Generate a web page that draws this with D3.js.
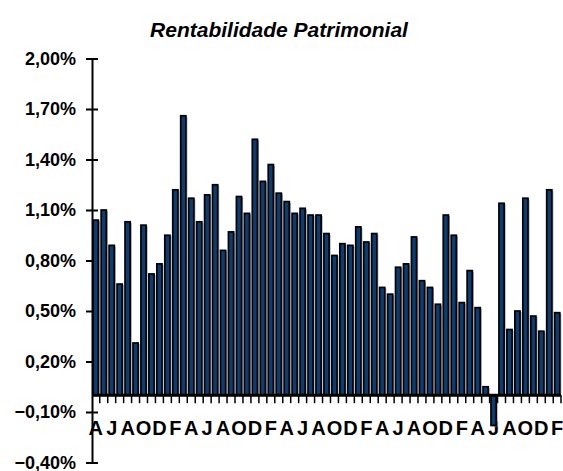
<!DOCTYPE html>
<html>
<head>
<meta charset="utf-8">
<script src="https://cdn.jsdelivr.net/npm/d3@7"></script>
<style>
  body { margin: 0; background: #fff; }
  text { font-family: "Liberation Sans", Arial, sans-serif; font-weight: bold; fill: #000; }
</style>
</head>
<body>
<div id="viz_container"></div>
<script>
//Data/////////////////////////////////////////////////////
const months = ["A","M","J","J","A","S","O","N","D","J","F","M",
                "A","M","J","J","A","S","O","N","D","J","F","M",
                "A","M","J","J","A","S","O","N","D","J","F","M",
                "A","M","J","J","A","S","O","N","D","J","F","M",
                "A","M","J","J","A","S","O","N","D","J","F"];
const rentabilidade = [1.04, 1.10, 0.89, 0.66, 1.03, 0.31, 1.01, 0.72, 0.78, 0.95,
                       1.22, 1.66, 1.17, 1.03, 1.19, 1.25, 0.86, 0.97, 1.18, 1.08,
                       1.52, 1.27, 1.37, 1.20, 1.15, 1.08, 1.11, 1.07, 1.07, 0.96,
                       0.83, 0.90, 0.89, 1.00, 0.91, 0.96, 0.64, 0.60, 0.76, 0.78,
                       0.94, 0.68, 0.64, 0.54, 1.07, 0.95, 0.55, 0.74, 0.52, 0.05,
                       -0.18, 1.14, 0.39, 0.50, 1.17, 0.47, 0.38, 1.22, 0.49];
const yTicks = [-0.40, -0.10, 0.20, 0.50, 0.80, 1.10, 1.40, 1.70, 2.00];
const title = "Rentabilidade Patrimonial";

const W = 563, H = 471;
const svg = d3.select("#viz_container")
  .append("svg")
    .attr("width", W)
    .attr("height", H);

// scales
const xScale = d3.scaleBand()
    .domain(d3.range(months.length))
    .range([92, 561])
    .paddingInner(0.35)
    .paddingOuter(0.15);

const yScale = d3.scaleLinear()
    .domain([-0.40, 2.00])
    .range([462.5, 58.5]);

const y0 = yScale(0);
const fmt = v => d3.format(".2f")(v).replace(".", ",") + "%";

// title
svg.append("text")
    .attr("x", 279)
    .attr("y", 37)
    .attr("text-anchor", "middle")
    .style("font-size", "21px")
    .style("font-style", "italic")
    .text(title);

// y axis
const yAxis = svg.append("g")
    .attr("transform", "translate(92,0)")
    .call(d3.axisLeft(yScale).tickValues(yTicks).tickFormat(fmt).tickSize(0).tickPadding(16));
yAxis.select(".domain").attr("stroke", "#000").attr("stroke-width", 2);
yAxis.selectAll("text").style("font-size", "18px").style("font-family", null);
yAxis.selectAll(".tick").append("line")
    .attr("x1", -6).attr("x2", 6)
    .attr("stroke", "#000").attr("stroke-width", 2);

// x labels (every second month)
svg.append("g")
  .selectAll("text")
  .data(d3.range(0, months.length, 2))
  .join("text")
    .attr("x", i => xScale(i) + xScale.bandwidth() / 2)
    .attr("y", 435)
    .attr("text-anchor", "middle")
    .style("font-size", "20px")
    .text(i => months[i]);

// bar shadows
svg.append("g")
  .selectAll("rect")
  .data(rentabilidade)
  .join("rect")
    .attr("x", (d, i) => xScale(i) + 1.5)
    .attr("y", d => Math.min(yScale(d), y0) + 1)
    .attr("width", xScale.bandwidth())
    .attr("height", d => Math.abs(yScale(d) - y0))
    .attr("fill", "#a0a0a0");

// bars
svg.append("g")
  .selectAll("rect")
  .data(rentabilidade)
  .join("rect")
    .attr("x", (d, i) => xScale(i))
    .attr("y", d => Math.min(yScale(d), y0))
    .attr("width", xScale.bandwidth())
    .attr("height", d => Math.abs(yScale(d) - y0))
    .attr("fill", "#0b3d73")
    .attr("stroke", "#000")
    .attr("stroke-width", 1.7);

// x axis line + category ticks (between categories)
svg.append("line")
    .attr("x1", 92).attr("x2", 561)
    .attr("y1", y0).attr("y2", y0)
    .attr("stroke", "#000").attr("stroke-width", 3);

const catEdge = i => i < months.length ? xScale(i) - xScale.step() * xScale.paddingInner() / 2 : 561;
svg.append("g")
  .selectAll("line")
  .data(d3.range(1, months.length + 1))
  .join("line")
    .attr("x1", catEdge)
    .attr("x2", catEdge)
    .attr("y1", y0)
    .attr("y2", y0 + 8)
    .attr("stroke", "#000").attr("stroke-width", 1.5);
</script>
</body>
</html>
